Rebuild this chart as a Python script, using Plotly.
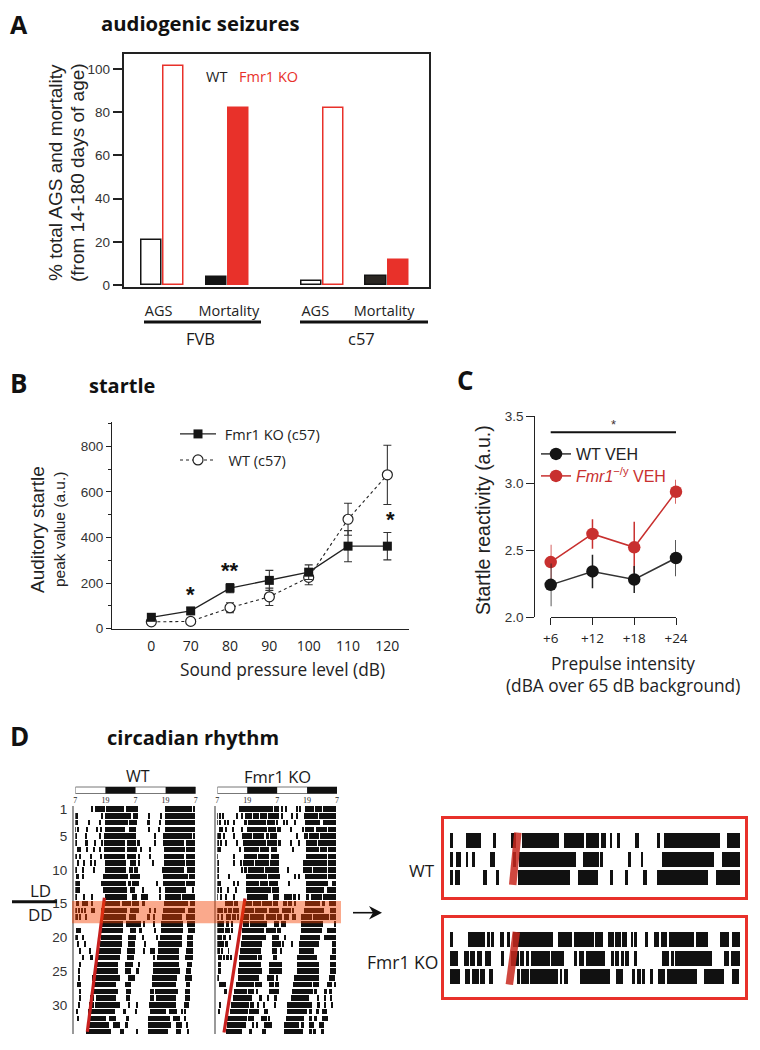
import plotly.graph_objects as go

W, H = 760, 1050
PAGE = 8  # the page body offsets the figure by this many pixels
SANS = "Liberation Sans"
OPEN = "Open Sans"
RED = "#e8312a"
DARK = "#141414"
CRED = "#c8302f"
INK = "#222"

# ---------- Panel A data ----------
A_POS = [0, 1, 2.47, 3.46]
A_TICKS = [-0.05, 1.03, 2.36, 3.42]
A_LABELS = ["AGS", "Mortality", "AGS", "Mortality"]
A_WT = [21, 3.5, 2, 4]
A_KO = [101.5, 82, 82, 11.5]
A_WT_FILL = ["white", DARK, "white", "#2a2622"]
A_KO_FILL = ["white", RED, "white", RED]

# ---------- Panel B data ----------
B_CATS = ["0", "70", "80", "90", "100", "110", "120"]
B_KO = [50, 78, 178, 212, 248, 362, 362]
B_KO_ERR = [8, 14, 20, 44, 32, 68, 60]
B_WT = [30, 32, 92, 140, 225, 480, 675]
B_WT_ERR = [6, 8, 22, 38, 32, 70, 130]

# ---------- Panel C data ----------
C_CATS = ["+6", "+12", "+18", "+24"]
C_WT = [2.24, 2.34, 2.28, 2.44]
C_WT_ERR = [0.16, 0.125, 0.10, 0.135]
C_KO = [2.41, 2.62, 2.52, 2.935]
C_KO_ERR = [0.13, 0.11, 0.19, 0.09]

# ---------- Panel D data: activity bouts per day (hours since 07:00) ----------
D_WT = [
 [(6.5,7.2),(7.8,10.2),(10.5,11.8),(12.5,19.4),(20.2,25.1),(36,46.7),(47.1,48)],
 [(0,1.3),(10.2,11),(12,22.5),(23.1,25.1),(29.4,29.8),(33.9,34.6),(36,48)],
 [(0,1.3),(5.2,6.1),(9.6,10.1),(12,21.1),(21.5,24.9),(29.1,29.7),(33.5,34.2),(36,48)],
 [(0,.4),(.8,1.3),(4.3,5.3),(8.5,9),(10.2,10.9),(12,19.8),(21.4,24.5),(29.4,29.9),(33.4,33.9),(36,48)],
 [(.3,.8),(3.9,4.8),(9.8,10.4),(11.4,24.2),(31.8,32.3),(35.1,35.8),(36,46.8),(47.3,48)],
 [(.2,.6),(4.3,5),(7.8,8.4),(10.5,11),(11.4,19.8),(20.7,24.5),(25.1,25.8),(31.5,32),(35.1,43.6),(44.4,48)],
 [(.9,2.3),(4.5,5.1),(7.3,7.8),(9.8,10.4),(11.4,19.8),(20.7,24.9),(26.2,26.6),(29.8,30.4),(35.5,43.8),(44.4,48)],
 [(.2,.7),(1.9,2.4),(6.1,6.6),(10.2,10.7),(11.5,19.8),(20.7,24.5),(25.5,26),(29.7,30.2),(35.5,43.5),(44.4,48)],
 [(.8,1.3),(3.2,3.7),(6.1,6.6),(7.8,8.4),(12,20.5),(21.8,24.5),(25.3,25.8),(30.9,31.6),(35.3,43.8),(44.4,48)],
 [(.3,.8),(2.9,3.5),(7.2,7.7),(12,20.2),(21.7,23.1),(23.5,25.1),(34.8,43.4),(44.8,47.7)],
 [(.4,1.6),(2.9,3.6),(11,21.1),(21.8,25.8),(35,45),(45.5,48)],
 [(0,1.9),(10.5,20.5),(21.1,22.4),(22.8,25.5),(32.4,33),(35,43.8),(44.4,48)],
 [(0,1.9),(11.2,20.8),(22.1,24.1),(27.1,27.7),(33.5,34),(35.8,44.4),(46.8,47.4)],
 [(.3,.8),(3.2,3.9),(6.5,7.2),(12,20.8),(22.7,24.9),(26.5,29.1),(33.5,34),(35.8,42.4),(42.8,48)],
 [(.3,1.6),(2.9,5.1),(6.5,7.2),(12,18),(18.8,22.5),(22.7,25.4),(26.8,28.1),(35.6,45),(45.7,48)],
 [(0,.8),(1.2,1.9),(2.5,3.2),(3.9,4.5),(6.5,7.9),(10.5,20.9),(22.1,25.5),(29.8,30.4),(31.4,32.2),(35.1,43.8),(45.2,48)],
 [(0,1.1),(1.9,2.4),(4.3,4.8),(10.6,20.5),(21.5,24.5),(29.1,29.8),(31.4,31.9),(34.8,42.8),(44.1,48)],
 [(10.2,19.1),(20.5,26.5),(27.5,28),(31.2,31.9),(34.3,43),(44.8,47.7)],
 [(.3,2.4),(10.5,19.1),(21.9,24.5),(25.9,26.6),(31.8,32.2),(34.4,43),(45,47.7)],
 [(0,1.2),(2.8,3.5),(10.2,18.8),(21.1,24.5),(26.9,27.6),(32.4,33),(33.8,42.8),(44.8,47.2)],
 [(.8,1.6),(3.9,4.5),(9.8,18.8),(21.1,23.8),(27.6,28.3),(33.2,42.5),(44.8,47.2)],
 [(1.9,2.5),(5.6,6.1),(9.1,18.4),(20.8,23.8),(27.3,28.1),(29.9,31.9),(32.9,41.4),(44.4,47)],
 [(2.9,3.5),(5.9,7.2),(8.9,18),(20.8,23.5),(31.4,31.9),(32.8,41.6),(43.8,47)],
 [(1.9,2.5),(8.5,17.1),(20.1,23.3),(25,25.9),(30.9,41.4),(44.8,46.8)],
 [(1.2,1.9),(7.8,17.1),(20.1,22.4),(24.4,25.5),(30.9,41.9),(44.4,46.1)],
 [(1.2,1.9),(6.9,17.8),(21.1,24),(30.8,40.6),(43.8,46.5)],
 [(.9,2.3),(6.9,16.5),(19.8,22.4),(30.8,40.1),(44.4,46)],
 [(1.5,2.5),(7.2,17.1),(20.5,22.4),(29.9,31.4),(31.8,41),(44,46)],
 [(1.5,2.3),(5.9,7.5),(8.2,16.5),(20.5,22.1),(29.9,31.4),(32.2,40.4),(43.8,45.8)],
 [(1.2,1.9),(5.6,7.5),(7.9,17.8),(21.1,22.1),(24.4,25),(29.6,40.4),(43.5,45.5)],
 [(.3,1.2),(5.2,15.8),(19.1,20.5),(23.8,24.7),(29.9,36.4),(37.4,40.8),(42.4,43.1),(43.8,44.4)],
 [(.8,1.6),(5.6,12.5),(13.5,16.5),(20.5,21.5),(29.3,37.7),(39.1,41.8),(43.8,44.4)],
 [(4.8,13.5),(15.2,17.8),(20.1,21.1),(29.3,38.3),(40.4,42.6),(44.4,45.1)],
 [(4.5,14.5),(17.8,19.4),(24.4,25),(29.3,37.1),(40.4,42.2),(44.6,45.4)],
]
D_KO = [
 [(8.9,20.8),(21,22.4),(22.7,24.9),(25.9,26.5),(27.6,27.9),(31.8,32.2),(32.9,33.3),(35.3,39),(39.4,42),(42.4,47.7)],
 [(0,.4),(.9,1.4),(2.2,2.9),(7.8,8.2),(9.8,10.3),(11.4,14),(14.3,17),(17.3,20.2),(20.5,24.9),(25.9,26.5),(29.8,30.3),(31.8,32.4),(35,40.5),(41,47.7)],
 [(0,.3),(.9,1.3),(2.9,3.4),(4.3,4.9),(6.6,7.1),(11,12),(12.3,19.6),(20,23.4),(23.7,24.6),(26.5,27),(28,28.5),(31.1,31.7),(35.3,41.5),(42.4,47.7)],
 [(1,2.3),(3.3,3.9),(6.1,6.5),(9.8,10.3),(12,20),(20.4,23.8),(24.1,25.5),(29.5,30),(34.2,35),(35.4,39),(39.5,44),(44.6,47.8)],
 [(0,.5),(.9,1.5),(2.8,3.3),(6.6,7.2),(10.3,10.8),(10.9,14),(14.3,19),(19.5,21),(21.3,24.2),(32,32.6),(35,36.5),(37,41),(41.5,47.7)],
 [(0,.5),(1.3,1.7),(3.5,4),(8,8.3),(10.5,11),(11.2,16),(16.2,19.5),(20,24),(24.4,25.6),(29.4,30),(32.8,33.3),(35.5,40),(40.5,47.6)],
 [(0,1.7),(8.9,9.3),(11,17),(17.3,21),(21.5,24),(30.2,30.6),(35.7,41),(41.5,44),(44.5,46.8),(47.2,47.8)],
 [(0,.4),(6.5,6.9),(10.8,16),(16.3,21),(21.5,25),(35.7,44),(44.5,47.8)],
 [(0,.5),(6.6,7),(9.5,10),(10.6,15),(15.3,21),(21.4,25),(34.5,35),(35.3,44),(44.5,47.7)],
 [(0,.5),(9.7,10.2),(11,12),(12.3,19),(19.4,25),(28.4,28.8),(34.5,35),(35.3,38),(38.4,44),(44.4,47.7)],
 [(0,.5),(4.8,5.3),(11.5,20),(20.4,25.2),(31,31.4),(32.5,33),(35.3,44.2),(44.5,47.7)],
 [(0,1.8),(6.5,7),(8.3,8.7),(11.5,17),(17.3,20.5),(20.8,24.5),(28.5,29),(35.5,44.5),(46,47.7)],
 [(0,.6),(1.5,2),(4.3,4.8),(7.3,7.7),(11.5,21.5),(22,25),(35.5,43),(44,47.8)],
 [(0,.3),(1.5,1.8),(3.4,3.9),(6.6,7),(12,18),(18.2,20.5),(22.5,25),(27,30),(30.3,31.8),(32.5,33),(35.5,37),(37.5,42),(42.5,47.7)],
 [(3.3,4),(4.2,6.5),(7,8.5),(10.8,14),(14.3,17.5),(18,22),(22.3,24.3),(26.5,28),(28.3,30),(31,31.5),(35.3,41.5),(42,43.5),(45,47.7)],
 [(0,.5),(1,2.5),(3.2,4),(4.5,6),(6.5,9),(10.5,15),(15.3,20),(21,25),(26,29.5),(30,31),(35,43),(45.5,47.7)],
 [(.3,1),(1.5,2.5),(3.5,5.5),(6,7.5),(8,9),(10.2,13),(13.3,18.8),(19.5,23.5),(24,26),(27,29),(30,31.5),(33.8,38),(38.5,45),(45.5,47.7)],
 [(0,3),(3.5,5),(6,6.5),(10.3,13),(13.3,20),(23,25),(25.5,27.5),(33.8,42.5),(47,47.7)],
 [(0,2.8),(3.2,5.3),(6,6.3),(10,19),(19.5,23.5),(24,25.5),(33.5,42),(44,47.7)],
 [(0,2),(2.5,3.8),(5,5.4),(10,19.5),(22,25),(27,27.5),(33.3,41.5),(43,47.7)],
 [(0,3),(3.3,4.3),(9.5,18),(22,25.5),(26,27),(29.8,30.2),(33,41),(46,47.7)],
 [(0,1.3),(2,2.5),(4.5,4.8),(9.2,17.5),(22,24),(25.5,26),(33,39),(46,47.7)],
 [(.3,2),(2.3,3.3),(3.6,5),(5.5,6),(9,16),(16.4,18),(22.5,24),(32,40),(45.5,47.7)],
 [(.5,1.5),(9,17.5),(21,26),(32,41),(45.5,47.7)],
 [(.5,1.5),(8.5,18.2),(21,26),(32,41),(45.5,47.7)],
 [(0,.5),(8.5,17),(20,23),(23.5,24.5),(31,41),(45,47.5)],
 [(.8,3.7),(7.5,15),(15.4,18),(21,23),(23.4,25),(30.5,38),(38.5,41),(44,46),(47,47.5)],
 [(3,4),(6.8,12),(12.4,15),(15.5,16.5),(21,25),(30,38.5),(39,40),(43,44),(45,46)],
 [(6.5,14.2),(17,18),(20,21),(23,24),(29.5,37),(40,41),(43,43.5),(45.5,46)],
 [(1,1.5),(5.8,13),(13.4,15),(16,16.8),(18.5,19),(23,23.5),(28,38),(40,41.5),(43,43.6),(46,46.5)],
 [(.7,1.2),(5.2,12.5),(13,17),(18.8,20.5),(28,36),(37,38),(39.5,41),(42,44)],
 [(4,12),(12.4,15),(17.5,20),(20.5,21),(27.5,35),(37,38),(39,40),(42,44.5)],
 [(4.2,11.5),(14,15),(15.5,16.5),(19,22),(27,33),(33.5,35),(37,39),(41,42),(42.5,43)],
 [(3.5,10.2),(13,14),(18,19.5),(27,34.5),(37,38),(38.5,39.5),(42,42.8)],
]
D_WT_ZOOM = [
 [(.05,.5),(2.75,5.2),(7.1,7.7),(10.2,11),(12,18.05),(18.8,22.1),(22.45,24.6),(24.9,25.75),(26.4,26.75),(27.6,28.05),(30.6,31.2),(34.2,34.7),(35.4,44.6),(45.7,48)],
 [(.1,.55),(1,1.85),(2.65,3.1),(3.75,4.2),(6.7,7.4),(10.5,11),(11.45,20.8),(22,24.6),(24.8,25.3),(29.45,30),(31.5,31.9),(35.1,43.6),(45,48)],
 [(.1,.55),(.8,1.75),(5.5,6.2),(7.7,8.15),(11.3,19.8),(21.2,24.55),(26.4,26.95),(28.9,29.45),(31.9,32.5),(34.2,42.65),(43.9,48)],
]
D_KO_ZOOM = [
 [(.1,.6),(3,5.8),(6.2,6.6),(6.9,7.3),(8.25,8.9),(9.45,10),(10.4,17),(17.8,20.2),(20.5,23.8),(24.05,25.3),(26.15,27.1),(27.35,28.2),(28.45,29.3),(29.85,30.3),(30.55,30.85),(32.2,32.7),(33.7,34.5),(34.8,35.9),(36.2,37),(37.1,40.3),(40.6,42.65),(44.6,46.1),(46.6,47.9)],
 [(.1,1.3),(2.3,3.15),(3.4,4.25),(4.5,5.3),(5.9,6.8),(8.5,8.9),(10.2,11.5),(11.65,12.3),(12.65,13.1),(13.4,16.5),(16.7,18.8),(20.5,21),(21.3,22.1),(22.55,25.7),(26.6,27.1),(27.35,27.9),(28.2,28.7),(29,29.55),(30.4,30.95),(35.05,36.15),(36.55,37),(37.25,43.3),(45.25,46.1),(46.45,47.9)],
 [(.1,1.75),(2.6,3.4),(3.75,4.8),(5.05,5.9),(6.45,7.15),(11.1,11.55),(11.8,13.05),(13.3,17.85),(18.15,18.55),(18.8,19.5),(21.45,26.4),(27.5,28.6),(30.1,30.65),(30.9,31.6),(31.8,32.2),(33.1,33.55),(34.35,35.6),(35.9,40.8),(41.95,45.25),(46.55,47.8)],
]
ONSET_WT = {"hour": [11.6, 4.8], "day": [14.15, 34]}
ONSET_KO = {"hour": [11.1, 2.7], "day": [14.25, 34.1]}
ONSET_WT_ZOOM = {"hour": [11.2, 10.35], "day": [0.55, 3.42]}
ONSET_KO_ZOOM = {"hour": [10.95, 9.8], "day": [0.55, 3.42]}
DAY_TICKS = [1, 5, 10, 15, 20, 25, 30]
HOUR_TICKS = [0, 12, 24, 36, 48]
HOUR_LABELS = ["7", "19", "7", "19", "7"]


def px(x):
    return (x - PAGE) / W


def py(y):
    return 1 - (y - PAGE) / H


def dx(a, b):
    return [px(a), px(b)]


def dy(top, bot):
    return [py(bot), py(top)]


def ann(text, x, y, size, font=OPEN, color="#1a1a1a", xa="center", ya="middle", angle=0):
    return dict(text=text, x=px(x), y=py(y), xref="paper", yref="paper", showarrow=False,
                font=dict(size=size, family=font, color=color), xanchor=xa, yanchor=ya,
                textangle=angle)


fig = go.Figure()

# A
fig.add_trace(go.Bar(x=A_POS, y=A_WT, width=0.31, offset=-0.32, xaxis="x", yaxis="y", name="WT",
                     marker=dict(color=A_WT_FILL, line=dict(color=DARK, width=1.5)), showlegend=False))
fig.add_trace(go.Bar(x=A_POS, y=A_KO, width=0.31, offset=0.02, xaxis="x", yaxis="y", name="Fmr1 KO",
                     marker=dict(color=A_KO_FILL, line=dict(color=RED, width=1.5)), showlegend=False))

# B
fig.add_trace(go.Scatter(x=B_CATS, y=B_WT, xaxis="x2", yaxis="y2", name="\u00a0\u00a0WT (c57)", legend="legend2",
                         mode="lines+markers", line=dict(color=INK, width=1.1, dash="dot"),
                         marker=dict(symbol="circle", size=10, color="white", line=dict(color=INK, width=1.2)),
                         error_y=dict(type="data", array=B_WT_ERR, color="#333", thickness=1.1, width=4),
                         cliponaxis=False))
fig.add_trace(go.Scatter(x=B_CATS, y=B_KO, xaxis="x2", yaxis="y2", name="\u00a0Fmr1 KO (c57)", legend="legend",
                         mode="lines+markers", line=dict(color=INK, width=1.3),
                         marker=dict(symbol="square", size=9, color="#161616"),
                         error_y=dict(type="data", array=B_KO_ERR, color="#333", thickness=1.1, width=4),
                         cliponaxis=False))

# C
fig.add_trace(go.Scatter(x=C_CATS, y=C_KO, xaxis="x3", yaxis="y3", name="<span style='color:%s'><i>Fmr1</i><sup>\u2212/y</sup> VEH</span>" % CRED,
                         legend="legend4", mode="lines+markers", line=dict(color=CRED, width=1.5),
                         marker=dict(size=12.5, color=CRED),
                         error_y=dict(type="data", array=C_KO_ERR, color=CRED, thickness=1.5, width=0),
                         cliponaxis=False))
fig.add_trace(go.Scatter(x=C_CATS, y=C_WT, xaxis="x3", yaxis="y3", name="WT VEH", legend="legend3",
                         mode="lines+markers", line=dict(color="#333", width=1.5),
                         marker=dict(size=12.5, color="#151515"),
                         error_y=dict(type="data", array=C_WT_ERR, color=INK, thickness=1.5, width=0),
                         cliponaxis=False))


def acto(rows, xa, ya, name):
    ys, bases, lens = [], [], []
    for day, segs in enumerate(rows, start=1):
        for s, e in segs:
            ys.append(day)
            bases.append(s)
            lens.append(e - s)
    fig.add_trace(go.Bar(y=ys, x=lens, base=bases, orientation="h", width=0.82, xaxis=xa, yaxis=ya,
                         marker=dict(color="#111", line=dict(width=0)), showlegend=False, name=name))


acto(D_WT, "x4", "y4", "WT")
acto(D_KO, "x5", "y5", "Fmr1 KO")
acto(D_WT_ZOOM, "x6", "y6", "WT detail")
acto(D_KO_ZOOM, "x7", "y7", "Fmr1 KO detail")
for on, xa, ya, w, col in [(ONSET_WT, "x4", "y4", 3.2, "#c8201f"), (ONSET_KO, "x5", "y5", 3.2, "#c8201f"),
                           (ONSET_WT_ZOOM, "x6", "y6", 7.5, "rgba(200,40,30,0.85)"),
                           (ONSET_KO_ZOOM, "x7", "y7", 7.5, "rgba(200,40,30,0.85)")]:
    fig.add_trace(go.Scatter(x=on["hour"], y=on["day"], xaxis=xa, yaxis=ya, mode="lines",
                             line=dict(color=col, width=w), showlegend=False, hoverinfo="skip"))

axis_line = dict(showgrid=False, zeroline=False, showline=True, linecolor=INK)
layout = dict(
    width=W, height=H, margin=dict(l=0, r=0, t=0, b=0, pad=0, autoexpand=False), paper_bgcolor="white",
    plot_bgcolor="rgba(0,0,0,0)", autosize=False, barmode="overlay", bargap=0,
    # A
    xaxis=dict(domain=dx(123.5, 429), anchor="y", range=[-0.59, 4.11], tickvals=A_TICKS, ticktext=A_LABELS,
               ticks="", ticklabelstandoff=10, tickfont=dict(family=OPEN, size=14.5, color=INK),
               mirror=True, linewidth=1.5, **axis_line),
    yaxis=dict(domain=dy(54, 286.5), anchor="x", range=[-0.7, 106.9], tickvals=[0, 20, 40, 60, 80, 100],
               ticks="outside", ticklen=9, tickwidth=1.5, tickcolor=INK, ticklabelstandoff=0,
               tickfont=dict(family=SANS, size=13.5, color="#333"), mirror=True, linewidth=1.5, **axis_line),
    # B
    xaxis2=dict(domain=dx(112, 409), anchor="y2", type="category", categoryorder="array", categoryarray=B_CATS,
                range=[-1.0, 6.55], ticks="", ticklabelstandoff=4, linewidth=1.2,
                tickfont=dict(family=OPEN, size=14, color=INK), **axis_line),
    yaxis2=dict(domain=dy(421.7, 628.7), anchor="x2", range=[0, 908], tickvals=[0, 200, 400, 600, 800],
                ticks="outside", ticklen=5, tickwidth=1.2, tickcolor=INK,
                minor=dict(tickvals=[100, 300, 500, 700, 900], ticks="outside", ticklen=3, tickcolor=INK, tickwidth=1),
                tickfont=dict(family=SANS, size=13.5, color="#333"), linewidth=1.2, **axis_line),
    # C
    xaxis3=dict(domain=dx(550.7, 676), anchor="y3", type="category", categoryorder="array", categoryarray=C_CATS,
                range=[0, 3], ticks="outside", ticklen=7, tickwidth=1.2, tickcolor=INK, linewidth=1.2, ticklabelstandoff=2,
                tickfont=dict(family=OPEN, size=13.5, color=INK), **axis_line),
    yaxis3=dict(domain=dy(416, 617), anchor="free", position=px(534.3), range=[2, 3.5],
                tickvals=[2, 2.5, 3, 3.5], tickformat=".1f", ticks="outside", ticklen=8, tickwidth=1.2, tickcolor=INK,
                linewidth=1.2, tickfont=dict(family=SANS, size=13.5, color="#333"), **axis_line),
    legend=dict(x=px(175), y=py(434), xanchor="left", yanchor="middle", bgcolor="rgba(0,0,0,0)", itemwidth=36,
                font=dict(family=OPEN, size=14.5, color=INK)),
    legend2=dict(x=px(175), y=py(460), xanchor="left", yanchor="middle", bgcolor="rgba(0,0,0,0)", itemwidth=36,
                 font=dict(family=OPEN, size=14.5, color=INK)),
    legend3=dict(x=px(536), y=py(454), xanchor="left", yanchor="middle", bgcolor="rgba(0,0,0,0)", itemwidth=30,
                 font=dict(family=SANS, size=16, color=INK)),
    legend4=dict(x=px(536), y=py(476), xanchor="left", yanchor="middle", bgcolor="rgba(0,0,0,0)", itemwidth=30,
                 font=dict(family=SANS, size=16, color=CRED)),
)

D_TICK = dict(tickvals=HOUR_TICKS, ticktext=HOUR_LABELS, range=[0, 48], side="top", ticks="", ticklabelstandoff=0,
              tickfont=dict(family="Liberation Serif", size=8, color=INK), showgrid=False, zeroline=False, showline=False)
GREY_Y = dict(autorange=False, range=[34.33, 0.55], showgrid=False, zeroline=False, showline=True,
              linecolor="#999", linewidth=1.5, ticks="")
layout["xaxis4"] = dict(domain=dx(75.3, 195.7), anchor="y4", **D_TICK)
layout["yaxis4"] = dict(domain=dy(806, 1034), anchor="free", position=px(72.7), tickvals=DAY_TICKS, ticklabelstandoff=2,
                        tickfont=dict(family=SANS, size=13.5, color="#333"), **GREY_Y)
layout["xaxis5"] = dict(domain=dx(217.3, 337), anchor="y5", **D_TICK)
layout["yaxis5"] = dict(domain=dy(806, 1034), anchor="free", position=px(215.3), showticklabels=False, **GREY_Y)

BOX = dict(range=[-0.94, 48.7], showticklabels=False, ticks="", showgrid=False, zeroline=False, showline=True,
           linecolor=RED, linewidth=3, mirror=True)
BOXY = dict(range=[4.08, -0.2], showticklabels=False, ticks="", showgrid=False, zeroline=False, showline=True,
            linecolor=RED, linewidth=3, mirror=True)
layout["xaxis6"] = dict(domain=dx(444.3, 745), anchor="y6", **BOX)
layout["yaxis6"] = dict(domain=dy(819, 897), anchor="x6", **BOXY)
layout["xaxis7"] = dict(domain=dx(444.3, 745), anchor="y7", **BOX)
layout["yaxis7"] = dict(domain=dy(918.3, 996.7), anchor="x7", **BOXY)

shapes = [
    dict(type="line", xref="paper", yref="paper", x0=px(144), x1=px(261), y0=py(322), y1=py(322), line=dict(color="#111", width=3)),
    dict(type="line", xref="paper", yref="paper", x0=px(300), x1=px(428), y0=py(322), y1=py(322), line=dict(color="#111", width=3)),
    dict(type="line", xref="x3", yref="y3", x0=-0.04, x1=3, y0=3.378, y1=3.378, line=dict(color="#111", width=2)),
    dict(type="line", xref="paper", yref="paper", x0=px(12), x1=px(57), y0=py(901.7), y1=py(901.7), line=dict(color="#111", width=3)),
    dict(type="rect", xref="paper", yref="paper", x0=px(72), x1=px(341), y0=py(901), y1=py(923.3),
         fillcolor="rgba(243,64,0,0.45)", line=dict(width=0), layer="above"),
    dict(type="line", xref="paper", yref="paper", x0=px(353), x1=px(378), y0=py(912.7), y1=py(912.7), line=dict(color="#111", width=1.6)),
    dict(type="path", xref="paper", yref="paper", fillcolor="#111", line=dict(width=0),
         path="M %.5f %.5f L %.5f %.5f L %.5f %.5f L %.5f %.5f Z" % (px(382), py(912.7), px(369), py(906), px(373), py(912.7), px(369), py(919.4))),
]
for xr in ["x4", "x5"]:
    shapes.append(dict(type="rect", xref=xr, yref="paper", x0=0, x1=48, y0=py(793.5), y1=py(787),
                       fillcolor="white", line=dict(color="#777", width=1)))
    for a, b in [(12, 24), (36, 48)]:
        shapes.append(dict(type="rect", xref=xr, yref="paper", x0=a, x1=b, y0=py(793.5), y1=py(787),
                           fillcolor="#111", line=dict(width=0)))
layout["shapes"] = shapes

annotations = [
    ann("<b>A</b>", 8, 24, 25, xa="left", color="#111"),
    ann("<b>audiogenic seizures</b>", 99, 22.5, 20.3, xa="left", color="#111"),
    ann("% total AGS and mortality", 55, 173, 19, font=SANS, color=INK, angle=-90),
    ann("(from 14-180 days of age)", 77, 173, 19, font=SANS, color=INK, angle=-90),
    ann("WT", 216, 76, 14.5, color=INK),
    ann("Fmr1 KO", 268, 76, 14.5, color=RED),
    ann("FVB", 200, 338, 16.5),
    ann("c57", 361, 338, 16.5),
    ann("<b>B</b>", 8, 383, 26, xa="left", color="#111"),
    ann("<b>startle</b>", 87, 385, 20, xa="left", color="#111"),
    ann("Auditory startle", 37, 530, 19, font=SANS, color=INK, angle=-90),
    ann("peak value (a.u.)", 59, 530, 15.5, font=SANS, color=INK, angle=-90),
    ann("Sound pressure level (dB)", 282, 669, 17.3, color=INK),
    ann("<b>C</b>", 455, 380, 26, xa="left", color="#111"),
    ann("Startle reactivity (a.u.)", 483, 520, 19.5, font=SANS, color=INK, angle=-90),
    ann("Prepulse intensity", 623, 663, 17.3, color=INK),
    ann("(dBA over 65 dB background)", 623, 685, 17.3, color=INK),
    ann("<b>D</b>", 8, 736, 26, xa="left", color="#111"),
    ann("<b>circadian rhythm</b>", 105, 737, 20, xa="left", color="#111"),
    ann("WT", 138, 776, 16),
    ann("Fmr1 KO", 277, 776, 16.5),
    ann("LD", 40, 890.5, 17),
    ann("DD", 40, 914, 17),
    ann("WT", 421.5, 870, 17),
    ann("Fmr1 KO", 440, 961.5, 17.5, xa="right"),
    # significance marks (category axes take serial numbers here)
    dict(text="<b>*</b>", x=1, y=150, xref="x2", yref="y2", showarrow=False, font=dict(family=SANS, size=22, color="#111")),
    dict(text="<b>**</b>", x=2, y=255, xref="x2", yref="y2", showarrow=False, font=dict(family=SANS, size=22, color="#111")),
    dict(text="<b>*</b>", x=6, y=480, xref="x2", yref="y2", showarrow=False, xshift=3, font=dict(family=SANS, size=22, color="#111")),
    dict(text="*", x=1.5, y=3.44, xref="x3", yref="y3", showarrow=False, font=dict(family=SANS, size=13, color="#433")),
]
layout["annotations"] = annotations
fig.update_layout(**layout)
fig.write_html("out.html", config=dict(displayModeBar=False))
